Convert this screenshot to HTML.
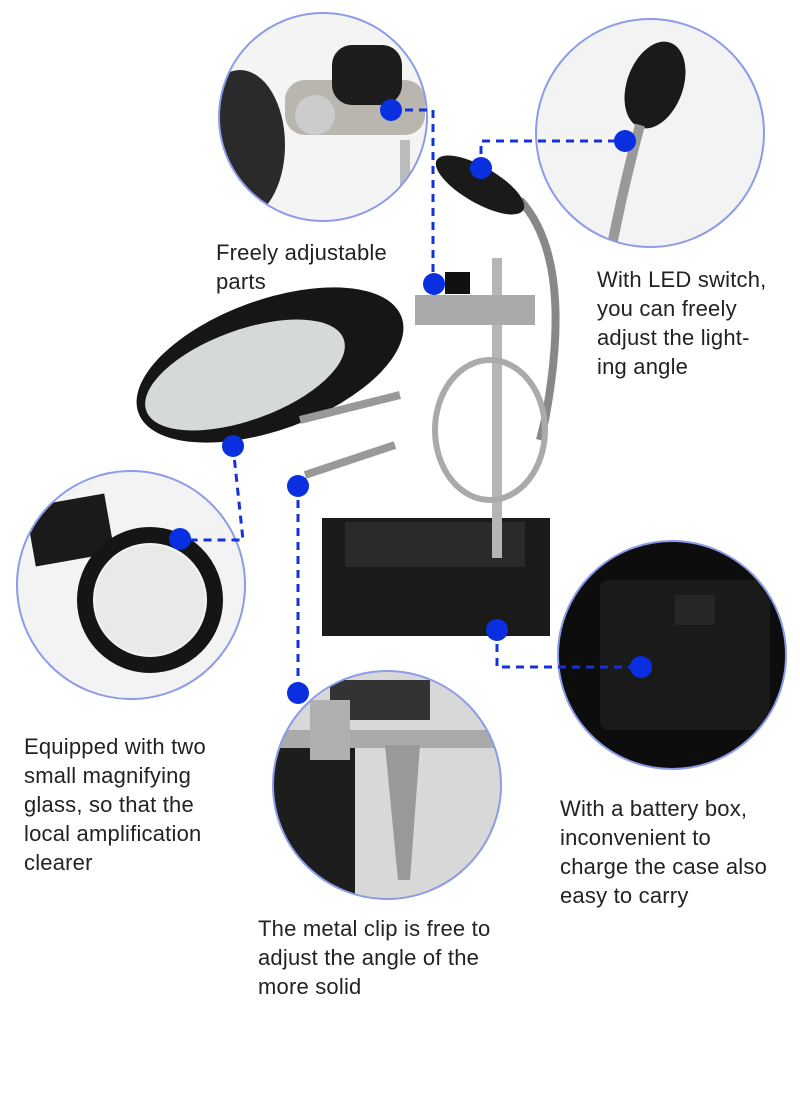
<!DOCTYPE html>
<html><head><style>
body{margin:0;width:800px;height:1105px;background:#fff;position:relative;overflow:hidden;font-family:"Liberation Sans",sans-serif}
.t{position:absolute;font-size:22px;line-height:29px;color:#222;letter-spacing:0.2px}
svg{position:absolute;left:0;top:0}
</style></head><body>
<svg width="800" height="1105" viewBox="0 0 800 1105">
<defs>
<clipPath id="c1"><circle cx="323" cy="117" r="104"/></clipPath>
<clipPath id="c2"><circle cx="650" cy="133" r="114"/></clipPath>
<clipPath id="c3"><circle cx="131" cy="585" r="114"/></clipPath>
<clipPath id="c4"><circle cx="672" cy="655" r="114"/></clipPath>
<clipPath id="c5"><circle cx="387" cy="785" r="114"/></clipPath>
</defs>
<!-- circle 1 -->
<g clip-path="url(#c1)">
<rect x="210" y="0" width="230" height="230" fill="#f4f4f4"/>
<ellipse cx="240" cy="145" rx="45" ry="75" fill="#2a2a2a"/>
<rect x="285" y="80" width="140" height="55" rx="20" fill="#b9b6b0"/>
<circle cx="315" cy="115" r="20" fill="#ccc"/>
<rect x="332" y="45" width="70" height="60" rx="20" fill="#1c1c1c"/>
<rect x="400" y="140" width="10" height="90" fill="#bbb"/>
</g>
<circle cx="323" cy="117" r="104" fill="none" stroke="#8d9be8" stroke-width="2"/>
<!-- circle 2 -->
<g clip-path="url(#c2)">
<rect x="530" y="15" width="240" height="240" fill="#f3f3f3"/>
<ellipse cx="655" cy="85" rx="28" ry="45" fill="#1a1a1a" transform="rotate(20 655 85)"/>
<path d="M640 125 Q625 180 612 245" stroke="#999" stroke-width="10" fill="none"/>
</g>
<circle cx="650" cy="133" r="114" fill="none" stroke="#8d9be8" stroke-width="2"/>
<!-- circle 3 -->
<g clip-path="url(#c3)">
<rect x="10" y="465" width="245" height="245" fill="#f3f3f3"/>
<rect x="30" y="500" width="80" height="60" fill="#1a1a1a" transform="rotate(-10 70 530)"/>
<circle cx="150" cy="600" r="65" fill="none" stroke="#151515" stroke-width="16"/>
<circle cx="150" cy="600" r="55" fill="#e8eae8"/>
</g>
<circle cx="131" cy="585" r="114" fill="none" stroke="#8d9be8" stroke-width="2"/>
<!-- circle 4 -->
<g clip-path="url(#c4)">
<rect x="550" y="535" width="245" height="245" fill="#0d0d0d"/>
<rect x="600" y="580" width="170" height="150" rx="8" fill="#1a1a1a"/>
<rect x="675" y="595" width="40" height="30" fill="#262626"/>
</g>
<circle cx="672" cy="655" r="114" fill="none" stroke="#8d9be8" stroke-width="2"/>
<!-- circle 5 -->
<g clip-path="url(#c5)">
<rect x="265" y="665" width="245" height="245" fill="#d8d8d8"/>
<rect x="265" y="745" width="90" height="170" fill="#1d1d1d"/>
<rect x="265" y="730" width="245" height="18" fill="#aaa"/>
<rect x="330" y="680" width="100" height="40" fill="#333"/>
<path d="M385 745 L420 745 L410 880 L398 880 Z" fill="#999"/>
<rect x="310" y="700" width="40" height="60" fill="#b0b0b0"/>
</g>
<circle cx="387" cy="785" r="114" fill="none" stroke="#8d9be8" stroke-width="2"/>
<!-- center product -->
<rect x="322" y="518" width="228" height="118" fill="#1a1a1a"/>
<rect x="345" y="522" width="180" height="45" fill="#2a2a2a"/>
<rect x="492" y="258" width="10" height="300" fill="#b5b5b5"/>
<ellipse cx="270" cy="365" rx="140" ry="65" fill="#161616" transform="rotate(-20 270 365)"/>
<ellipse cx="245" cy="375" rx="105" ry="45" fill="#d5dad6" transform="rotate(-20 245 375)"/>
<rect x="415" y="295" width="120" height="30" fill="#aaa"/>
<rect x="445" y="272" width="25" height="22" fill="#111"/>
<path d="M520 200 Q575 260 545 420 L540 440" stroke="#888" stroke-width="8" fill="none"/>
<ellipse cx="480" cy="185" rx="50" ry="18" fill="#1a1a1a" transform="rotate(30 480 185)"/>
<ellipse cx="490" cy="430" rx="55" ry="70" fill="none" stroke="#aaa" stroke-width="6"/>
<path d="M300 420 L400 395 M305 475 L395 445" stroke="#999" stroke-width="8"/>
<!-- connectors -->
<g stroke="#1432d8" stroke-width="3" stroke-dasharray="8 6" fill="none">
<path d="M391 110 H433 V284"/>
<path d="M481 168 V141 H625"/>
<path d="M233 446 L243 540 H180"/>
<path d="M298 486 V693"/>
<path d="M497 630 V667 H641"/>
</g>
<g fill="#0a2fe0">
<circle cx="391" cy="110" r="11"/><circle cx="434" cy="284" r="11"/>
<circle cx="481" cy="168" r="11"/><circle cx="625" cy="141" r="11"/>
<circle cx="233" cy="446" r="11"/><circle cx="180" cy="539" r="11"/>
<circle cx="298" cy="486" r="11"/><circle cx="298" cy="693" r="11"/>
<circle cx="497" cy="630" r="11"/><circle cx="641" cy="667" r="11"/>
</g>
</svg>
<div class="t" style="left:216px;top:238px">Freely adjustable<br>parts</div>
<div class="t" style="left:597px;top:265px">With LED switch,<br>you can freely<br>adjust the light-<br>ing angle</div>
<div class="t" style="left:24px;top:732px">Equipped with two<br>small magnifying<br>glass, so that the<br>local amplification<br>clearer</div>
<div class="t" style="left:560px;top:794px">With a battery box,<br>inconvenient to<br>charge the case also<br>easy to carry</div>
<div class="t" style="left:258px;top:914px">The metal clip is free to<br>adjust the angle of the<br>more solid</div>
</body></html>
